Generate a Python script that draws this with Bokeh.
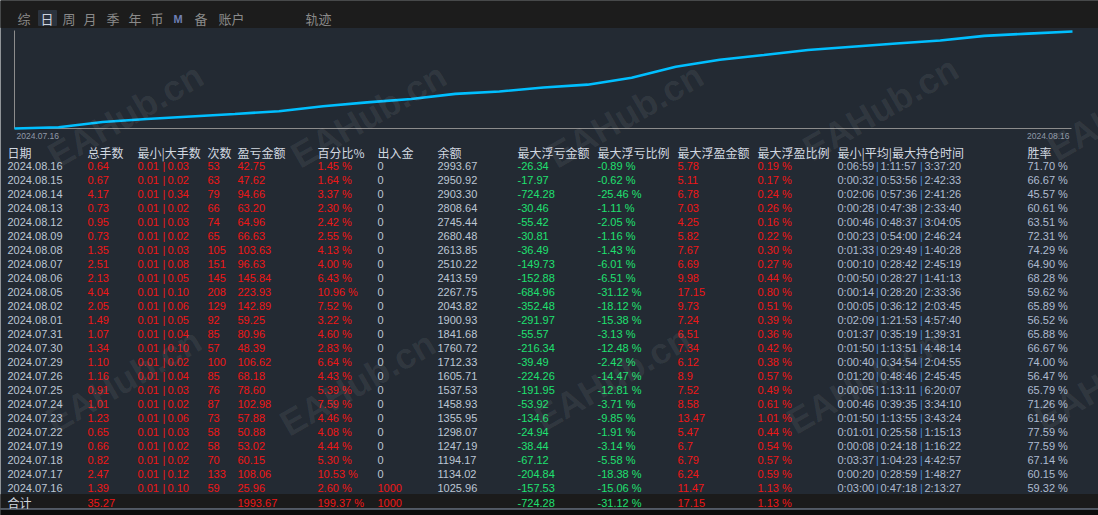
from bokeh.plotting import figure
from bokeh.models import Range1d
from bokeh.core.properties import value
from bokeh.embed import file_html
from bokeh.resources import INLINE

# ---------------- data ----------------
dates = ["2024.08.16", "2024.08.15", "2024.08.14", "2024.08.13", "2024.08.12", "2024.08.09",
         "2024.08.08", "2024.08.07", "2024.08.06", "2024.08.05", "2024.08.02", "2024.08.01",
         "2024.07.31", "2024.07.30", "2024.07.29", "2024.07.26", "2024.07.25", "2024.07.24",
         "2024.07.23", "2024.07.22", "2024.07.19", "2024.07.18", "2024.07.17", "2024.07.16"]
total_lots = [0.64, 0.67, 4.17, 0.73, 0.95, 0.73, 1.35, 2.51, 2.13, 4.04, 2.05, 1.49,
              1.07, 1.34, 1.10, 1.16, 0.91, 1.01, 1.23, 0.65, 0.66, 0.82, 2.47, 1.39]
min_lot = [0.01] * 24
max_lot = [0.03, 0.02, 0.34, 0.02, 0.03, 0.02, 0.03, 0.08, 0.05, 0.10, 0.06, 0.05,
           0.04, 0.10, 0.02, 0.04, 0.03, 0.02, 0.06, 0.03, 0.02, 0.02, 0.12, 0.10]
trades = [53, 63, 79, 66, 74, 65, 105, 151, 145, 208, 129, 92,
          85, 57, 100, 85, 76, 87, 73, 58, 58, 70, 133, 59]
profit = [42.75, 47.62, 94.66, 63.20, 64.96, 66.63, 103.63, 96.63, 145.84, 223.93, 142.89, 59.25,
          80.96, 48.39, 106.62, 68.18, 78.60, 102.98, 57.88, 50.88, 53.02, 60.15, 108.06, 25.96]
profit_pct = [1.45, 1.64, 3.37, 2.30, 2.42, 2.55, 4.13, 4.00, 6.43, 10.96, 7.52, 3.22,
              4.60, 2.83, 6.64, 4.43, 5.39, 7.59, 4.46, 4.08, 4.44, 5.30, 10.53, 2.60]
deposit = [0] * 23 + [1000]
balance = [2993.67, 2950.92, 2903.30, 2808.64, 2745.44, 2680.48, 2613.85, 2510.22, 2413.59,
           2267.75, 2043.82, 1900.93, 1841.68, 1760.72, 1712.33, 1605.71, 1537.53, 1458.93,
           1355.95, 1298.07, 1247.19, 1194.17, 1134.02, 1025.96]
max_float_loss = [-26.34, -17.97, -724.28, -30.46, -55.42, -30.81, -36.49, -149.73, -152.88,
                  -684.96, -352.48, -291.97, -55.57, -216.34, -39.49, -224.26, -191.95, -53.92,
                  -134.6, -24.94, -38.44, -67.12, -204.84, -157.53]
max_float_loss_pct = [-0.89, -0.62, -25.46, -1.11, -2.05, -1.16, -1.43, -6.01, -6.51, -31.12,
                      -18.12, -15.38, -3.13, -12.48, -2.42, -14.47, -12.81, -3.71, -9.85, -1.91,
                      -3.14, -5.58, -18.38, -15.06]
max_float_profit = [5.78, 5.11, 6.78, 7.03, 4.25, 5.82, 7.67, 6.69, 9.98, 17.15, 9.73, 7.24,
                    6.51, 7.34, 6.12, 8.9, 7.52, 8.58, 13.47, 5.47, 6.7, 6.79, 6.24, 11.47]
max_float_profit_pct = [0.19, 0.17, 0.24, 0.26, 0.16, 0.22, 0.30, 0.27, 0.44, 0.80, 0.51, 0.39,
                        0.36, 0.42, 0.38, 0.57, 0.49, 0.61, 1.01, 0.44, 0.54, 0.57, 0.59, 1.13]
hold_min = ["0:06:59", "0:00:32", "0:02:06", "0:00:28", "0:00:46", "0:00:23", "0:01:33", "0:00:10",
            "0:00:50", "0:00:14", "0:00:05", "0:02:09", "0:01:37", "0:01:50", "0:00:40", "0:01:20",
            "0:00:05", "0:00:46", "0:01:50", "0:01:01", "0:00:08", "0:03:37", "0:00:20", "0:03:00"]
hold_avg = ["1:11:57", "0:53:56", "0:57:36", "0:47:38", "0:48:37", "0:54:00", "0:29:49", "0:28:42",
            "0:28:27", "0:28:20", "0:36:12", "1:21:53", "0:35:19", "1:13:51", "0:34:54", "0:48:46",
            "1:13:11", "0:39:35", "1:13:55", "0:25:58", "0:24:18", "1:04:23", "0:28:59", "0:47:18"]
hold_max = ["3:37:20", "2:42:33", "2:41:26", "2:33:40", "3:04:05", "2:46:24", "1:40:28", "2:45:19",
            "1:41:13", "2:33:36", "2:03:45", "4:57:40", "1:39:31", "4:48:14", "2:04:55", "2:45:45",
            "6:20:07", "3:34:10", "3:43:24", "1:15:13", "1:16:22", "4:42:57", "1:48:27", "2:13:27"]
win_rate = [71.70, 66.67, 45.57, 60.61, 63.51, 72.31, 74.29, 64.90, 68.28, 59.62, 65.89, 56.52,
            65.88, 66.67, 74.00, 56.47, 65.79, 71.26, 61.64, 77.59, 77.59, 67.14, 60.15, 59.32]

headers = ["日期", "总手数", "最小|大手数", "次数", "盈亏金额", "百分比%", "出入金", "余额",
           "最大浮亏金额", "最大浮亏比例", "最大浮盈金额", "最大浮盈比例", "最小|平均|最大持仓时间", "胜率"]
tabs = ["综", "日", "周", "月", "季", "年", "币", "M", "备", "账户", "轨迹"]
total_label = "合计"
watermark = "EAHub.cn"

# ---------------- layout constants (reference pixel coords) ----------------
W, H = 1098, 515
OX, OY = 0, 0
BG = "#232a33"
TOPBAR = "#1c1c1c"
TOTBG = "#1b1b1b"
TXT = "#bcc6d4"
HDR = "#d2d8e0"
RED = "#f01616"
GRN = "#1fe070"
TIME = "#aebbd0"
PIPE = "#3f86d8"
NUM_FONT = value("Liberation Sans")
CJK_FONT = value("Noto Sans CJK SC")
NUM_SIZE = "11px"
CJK_SIZE = "12px"

col_x = [7, 87, 137, 207, 237, 317, 377, 437, 517, 597, 677, 757, 837, 1027]
tab_x = [17, 40, 62, 83, 106, 128, 150, 173, 194, 218, 305]
header_y = 152
row_y = [165 + 14 * i for i in range(len(dates))]
total_y = 502

p = figure(width=W, height=H, output_backend="svg", toolbar_location=None,
           x_range=Range1d(OX, OX + W), y_range=Range1d(OY + H, OY),
           x_axis_location=None, y_axis_location=None, min_border=0)
p.grid.visible = False
p.outline_line_color = None
p.background_fill_color = BG
p.border_fill_color = BG

# backgrounds
p.quad(left=[OX], right=[OX + W], top=[OY], bottom=[27], color=TOPBAR)
p.quad(left=[OX], right=[OX + W], top=[494], bottom=[508], color=TOTBG)
p.quad(left=[OX], right=[OX + W], top=[509], bottom=[OY + H], color="#0c0c0c")
p.segment(x0=[OX], y0=[508.5], x1=[OX + W], y1=[508.5], line_color="#8d9bb0", line_width=1)
p.quad(left=[38], right=[56], top=[10], bottom=[25], color="#2b333e")

# tabs
tab_colors = ["#8a8a8a"] * len(tabs)
tab_colors[1] = "#ccd3de"
for i, t in enumerate(tabs):
    if t == "M":
        p.text(x=[tab_x[i]], y=[18], text=[t], text_color="#6f7fb4", text_font=NUM_FONT,
               text_font_size="11px", text_font_style="bold", text_baseline="middle")
    else:
        p.text(x=[tab_x[i]], y=[18], text=[t], text_color=tab_colors[i], text_font=CJK_FONT,
               text_font_size="13px", text_baseline="middle")

# ---------------- balance chart ----------------
start_balance = balance[-1] - profit[-1]
chart_y = [start_balance] + balance[::-1]
chart_x = list(range(len(chart_y)))
n = len(chart_y) - 1
cx0, cx1 = 14, 1072
cy0, cy1 = 128, 31
ymin, ymax = min(chart_y), max(chart_y)
xs = n / (cx1 - cx0)
ys = (ymax - ymin) / (cy0 - cy1)
p.extra_x_ranges = {"cx": Range1d(0 - (cx0 - OX) * xs, n + (OX + W - cx1) * xs)}
p.extra_y_ranges = {"cy": Range1d(ymin - (OY + H - cy0) * ys, ymax + (cy1 - OY) * ys)}

p.segment(x0=[0, 0], y0=[ymin, ymin], x1=[0, n - 1 * xs], y1=[ymax + 1 * ys, ymin],
          line_color="#8c8c8c", line_width=1, x_range_name="cx", y_range_name="cy")
p.line(x=chart_x, y=chart_y, line_color="#00bfff", line_width=2.6,
       x_range_name="cx", y_range_name="cy")
p.text(x=[0], y=[ymin], text=[dates[-1]], x_offset=2, y_offset=7, text_align="left",
       text_baseline="middle", text_color="#8f99a8", text_font=NUM_FONT, text_font_size="8.5px",
       x_range_name="cx", y_range_name="cy")
p.text(x=[n], y=[ymin], text=[dates[0]], x_offset=-3, y_offset=7, text_align="right",
       text_baseline="middle", text_color="#8f99a8", text_font=NUM_FONT, text_font_size="8.5px",
       x_range_name="cx", y_range_name="cy")

# ---------------- table ----------------
def col(x, ys_, texts, color, font=NUM_FONT, size=NUM_SIZE):
    p.text(x=[x] * len(texts), y=ys_, text=texts, text_color=color, text_font=font,
           text_font_size=size, text_baseline="middle", text_align="left")

# header
for i, h in enumerate(headers):
    col(col_x[i], [header_y], [h], HDR, CJK_FONT, CJK_SIZE)

f2 = lambda v: "%.2f" % v
col(col_x[0], row_y, dates, TXT)
col(col_x[1], row_y, [f2(v) for v in total_lots], RED)
col(col_x[2], row_y, [f2(v) for v in min_lot], RED)
col(col_x[2] + 25, row_y, ["|"] * len(dates), RED)
col(col_x[2] + 30, row_y, [f2(v) for v in max_lot], RED)
col(col_x[3], row_y, [str(v) for v in trades], RED)
col(col_x[4], row_y, [f2(v) for v in profit], RED)
col(col_x[5], row_y, [f2(v) + " %" for v in profit_pct], RED)
dep_colors = [RED if v else TXT for v in deposit]
p.text(x=[col_x[6]] * len(deposit), y=row_y, text=[str(v) for v in deposit], text_color=dep_colors,
       text_font=NUM_FONT, text_font_size=NUM_SIZE, text_baseline="middle")
col(col_x[7], row_y, [f2(v) for v in balance], TXT)
col(col_x[8], row_y, [repr(v) for v in max_float_loss], GRN)
col(col_x[9], row_y, [f2(v) + " %" for v in max_float_loss_pct], GRN)
col(col_x[10], row_y, [repr(v) for v in max_float_profit], RED)
col(col_x[11], row_y, [f2(v) + " %" for v in max_float_profit_pct], RED)
col(col_x[12], row_y, hold_min, TIME)
col(col_x[12] + 38.5, row_y, ["|"] * len(dates), PIPE)
col(col_x[12] + 43, row_y, hold_avg, TIME)
col(col_x[12] + 82.5, row_y, ["|"] * len(dates), PIPE)
col(col_x[12] + 87, row_y, hold_max, TIME)
col(col_x[13], row_y, [f2(v) + " %" for v in win_rate], TIME)

# totals
col(col_x[0], [total_y], [total_label], HDR, CJK_FONT, CJK_SIZE)
col(col_x[1], [total_y], [f2(sum(total_lots))], RED)
col(col_x[4], [total_y], [f2(sum(profit))], RED)
col(col_x[5], [total_y], [f2(sum(profit) / sum(deposit) * 100) + " %"], RED)
col(col_x[6], [total_y], [str(sum(deposit))], RED)
col(col_x[8], [total_y], [repr(min(max_float_loss))], GRN)
col(col_x[9], [total_y], [f2(min(max_float_loss_pct)) + " %"], GRN)
col(col_x[10], [total_y], [repr(max(max_float_profit))], RED)
col(col_x[11], [total_y], [f2(max(max_float_profit_pct)) + " %"], RED)

# watermark
wm_x = [125, 368, 625, 880, 1125, 123, 357, 612, 864, 1112]
wm_y = [115, 115, 115, 108, 108, 380, 383, 378, 381, 378]
p.text(x=wm_x, y=wm_y, text=[watermark] * len(wm_x), angle=30, angle_units="deg",
       text_align="center", text_baseline="middle", text_color="#ffffff", text_alpha=0.07,
       text_font=value("Liberation Sans"), text_font_style="bold", text_font_size="36px")

open("out.html", "w").write(file_html(p, INLINE))
